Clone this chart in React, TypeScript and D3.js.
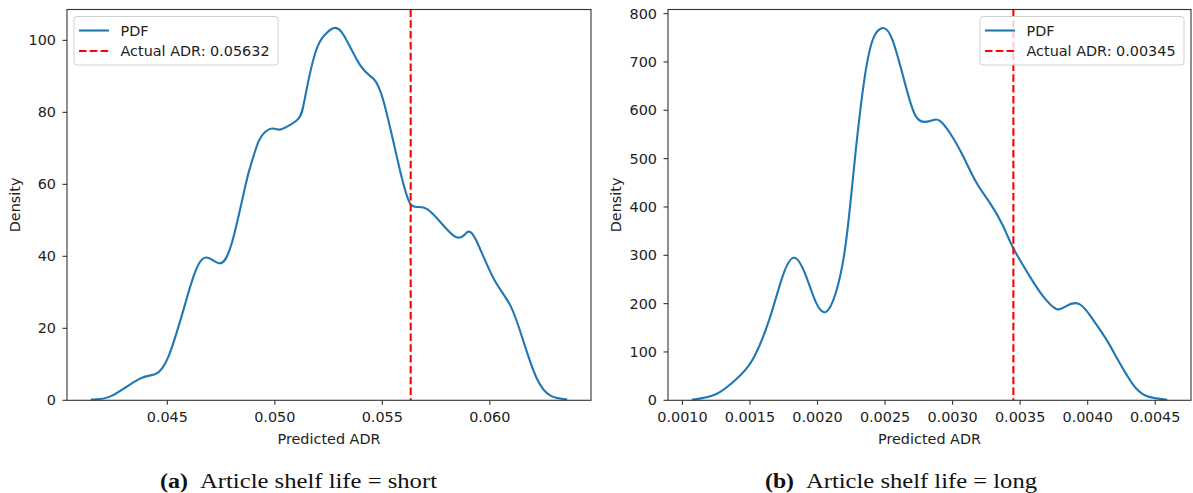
import React from 'react';
import * as d3 from 'd3';

// (a) short shelf life: predicted ADR vs density
const shortAdr = [0.04144, 0.04243, 0.04368, 0.04445, 0.04507, 0.04585, 0.04662, 0.04739, 0.04801, 0.04863, 0.04894, 0.04925, 0.04956, 0.04987, 0.0502, 0.05049, 0.05111, 0.05142, 0.05189, 0.05235, 0.05275, 0.05322, 0.05399, 0.05461, 0.05507, 0.0557, 0.05631, 0.05709, 0.05833, 0.05895, 0.05941, 0.06019, 0.06096, 0.06158, 0.0622, 0.06282, 0.0636];
const shortDensity = [0.2, 1.3, 5.9, 7.3, 12.4, 27.2, 39.2, 38.1, 43.9, 59.6, 66.5, 72, 74.6, 75.5, 75.2, 75.8, 78.3, 84.6, 96.7, 101.7, 103.4, 101.3, 92.9, 89.2, 82.8, 67, 54.5, 53.1, 45.7, 46.7, 43.9, 33.7, 26.3, 16.1, 5.9, 1.3, 0.2];
const shortActual = 0.05632;

// (b) long shelf life
const longAdr = [0.001069, 0.001251, 0.0014, 0.001521, 0.001644, 0.001742, 0.001829, 0.001915, 0.001989, 0.002063, 0.002136, 0.00221, 0.002284, 0.002358, 0.002419, 0.00248, 0.002554, 0.002653, 0.002727, 0.0028, 0.00286, 0.002906, 0.00298, 0.003078, 0.003177, 0.003275, 0.003373, 0.003447, 0.00357, 0.003668, 0.003767, 0.003841, 0.003939, 0.004037, 0.004136, 0.004234, 0.004332, 0.004431, 0.004589];
const longDensity = [1, 13, 44, 85, 168, 257, 295, 257, 202, 183, 223, 326, 519, 684, 753, 770, 746, 650, 588, 576, 580, 578, 553, 505, 450, 409, 361, 316, 257, 216, 189, 195, 199, 168, 127, 78.5, 34, 9.5, 1];
const longActual = 0.00345;

const shortXTicks = [0.045, 0.05, 0.055, 0.06];
const shortYTicks = [0, 20, 40, 60, 80, 100];
const longXTicks = [0.001, 0.0015, 0.002, 0.0025, 0.003, 0.0035, 0.004, 0.0045];
const longYTicks = [0, 100, 200, 300, 400, 500, 600, 700, 800];

const FONT = 'DejaVu Sans';
const TXT = '#222';
const FS = 14.4;

type PanelProps = {
  xs: number[];
  ys: number[];
  actual: number;
  xTicks: number[];
  yTicks: number[];
  fmt: string;
  left: number;
  right: number;
  legendRight: boolean;
};

const Panel = ({ xs, ys, actual, xTicks, yTicks, fmt, left, right, legendRight }: PanelProps) => {
  const top = 9.5;
  const bottom = 400.3;
  const [x0, x1] = d3.extent(xs) as [number, number];
  const pad = (x1 - x0) * 0.05;
  const x = d3.scaleLinear().domain([x0 - pad, x1 + pad]).range([left, right]);
  const y = d3.scaleLinear().domain([0, (d3.max(ys) as number) * 1.05]).range([bottom, top]);
  const pts = xs.map((v, i) => [v, ys[i]] as [number, number]);
  const line = d3.line<[number, number]>()
    .x(d => x(d[0]))
    .y(d => y(d[1]))
    .curve(d3.curveNatural);
  const f = d3.format(fmt);

  const lgW = 204;
  const lgX = legendRight ? right - 7 - lgW : left + 7;
  const lgY = top + 7;
  const label = `Actual ADR: ${actual}`;

  return (
    <g fontFamily={FONT} fill={TXT}>
      <path d={line(pts) || ''} fill="none" stroke="#1f77b4" strokeWidth={2.1} />
      <line x1={x(actual)} x2={x(actual)} y1={top} y2={bottom} stroke="#ff0000" strokeWidth={2.1} strokeDasharray="7.5,3.3" />
      <rect x={left} y={top} width={right - left} height={bottom - top} fill="none" stroke="#333" strokeWidth={1.1} />

      {xTicks.map(t => (
        <g key={t}>
          <line x1={x(t)} x2={x(t)} y1={bottom} y2={bottom + 4.5} stroke="#333" strokeWidth={1.1} />
          <text x={x(t)} y={bottom + 22} textAnchor="middle" fontSize={FS}>{f(t)}</text>
        </g>
      ))}
      {yTicks.map(t => (
        <g key={t}>
          <line x1={left - 4.5} x2={left} y1={y(t)} y2={y(t)} stroke="#333" strokeWidth={1.1} />
          <text x={left - 11} y={y(t) + 5} textAnchor="end" fontSize={FS}>{t}</text>
        </g>
      ))}
      <text x={(left + right) / 2} y={443.5} textAnchor="middle" fontSize={FS}>Predicted ADR</text>
      <text transform={`translate(${left - 47.5},${(top + bottom) / 2}) rotate(-90)`} textAnchor="middle" fontSize={FS}>Density</text>

      <g transform={`translate(${lgX},${lgY})`}>
        <rect x={0} y={0} width={lgW} height={48.5} rx={3} fill="#fff" fillOpacity={0.8} stroke="#d0d0d0" strokeWidth={1} />
        <line x1={5} x2={35} y1={14} y2={14} stroke="#1f77b4" strokeWidth={2.1} />
        <line x1={5} x2={35} y1={34.5} y2={34.5} stroke="#ff0000" strokeWidth={2.1} strokeDasharray="7.5,3.3" />
        <text x={46.5} y={19} fontSize={FS}>PDF</text>
        <text x={46.5} y={39.5} fontSize={FS}>{label}</text>
      </g>
    </g>
  );
};

const Caption = ({ x, tag, tagW, text, textW }: { x: number; tag: string; tagW: number; text: string; textW: number }) => (
  <g fontFamily="Liberation Serif" fontSize={20} fill="#111">
    <text x={x} y={487.5} fontWeight="bold" textLength={tagW} lengthAdjust="spacingAndGlyphs">{tag}</text>
    <text x={x + tagW + 12} y={487.5} textLength={textW} lengthAdjust="spacingAndGlyphs">{text}</text>
  </g>
);

export default function App() {
  return (
    <svg width={1193} height={493} style={{ position: 'absolute', left: 0, top: 0, background: '#fff' }}>
      <Panel xs={shortAdr} ys={shortDensity} actual={shortActual} xTicks={shortXTicks} yTicks={shortYTicks}
        fmt=".3f" left={67} right={591} legendRight={false} />
      <Panel xs={longAdr} ys={longDensity} actual={longActual} xTicks={longXTicks} yTicks={longYTicks}
        fmt=".4f" left={668} right={1191} legendRight={true} />
      <Caption x={160} tag="(a)" tagW={28} text="Article shelf life = short" textW={237} />
      <Caption x={765} tag="(b)" tagW={29} text="Article shelf life = long" textW={231} />
    </svg>
  );
}
